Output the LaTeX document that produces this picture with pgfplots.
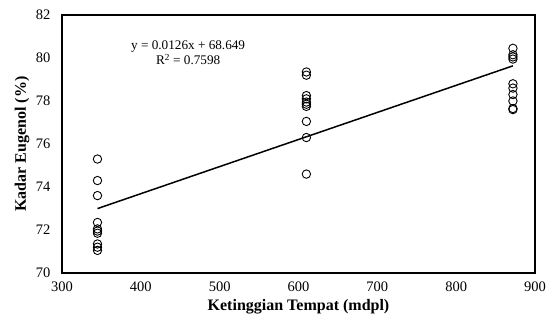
\documentclass[border=0pt]{standalone}
\usepackage{pgfplots}
\pgfplotsset{compat=1.18}
\usepackage{fontspec}
\setmainfont{Liberation Serif}
\begin{document}
\begin{tikzpicture}
\begin{axis}[
  scale only axis,
  width=473pt, height=258pt,
  xmin=300, xmax=900, ymin=70, ymax=82,
  xtick={300,400,...,900}, ytick={70,72,...,82},
  major tick length=0pt,
  axis line style={line width=1.4pt},
  tick label style={font=\fontsize{14.5}{16}\selectfont},
  yticklabel style={xshift=-8pt},
  xticklabel style={yshift=-5pt},
  /pgf/number format/assume math mode=true,
  xlabel={\textbf{Ketinggian Tempat (mdpl)}},
  ylabel={\textbf{Kadar Eugenol (\%)}},
  label style={font=\fontsize{16}{18}\selectfont},
  xlabel style={at={(axis description cs:0.5,0)}, anchor=center, yshift=-34pt},
  ylabel style={at={(axis description cs:0,0.5)}, anchor=center, rotate=0, yshift=40pt},
  clip=false,
]
\addplot[only marks, mark=o, mark size=4.2pt, line width=0.9pt, black] coordinates {
 (345,75.3) (345,74.3) (345,73.6) (345,72.35) (345,72.05) (345,71.95) (345,71.85) (345,71.35) (345,71.2) (345,71.05)
 (610,79.35) (610,79.2) (610,78.25) (610,78.1) (610,77.95) (610,77.85) (610,77.75) (610,77.05) (610,76.3) (610,74.6)
 (872,80.45) (872,80.15) (872,80.05) (872,79.95) (872,78.8) (872,78.6) (872,78.3) (872,78.0) (872,77.65) (872,77.6)
};
\addplot[black, line width=1.5pt] coordinates {(345,72.996) (872,79.636)};
\node[font=\fontsize{13.2}{15}\selectfont, align=center] at (axis cs:460,80.25) {y = 0.0126x + 68.649\\R\textsuperscript{2} = 0.7598};
\end{axis}
\pgfresetboundingbox
\path ([shift={(-62pt,-47pt)}]current axis.south west) rectangle ([shift={(15pt,15pt)}]current axis.north east);
\end{tikzpicture}
\end{document}
